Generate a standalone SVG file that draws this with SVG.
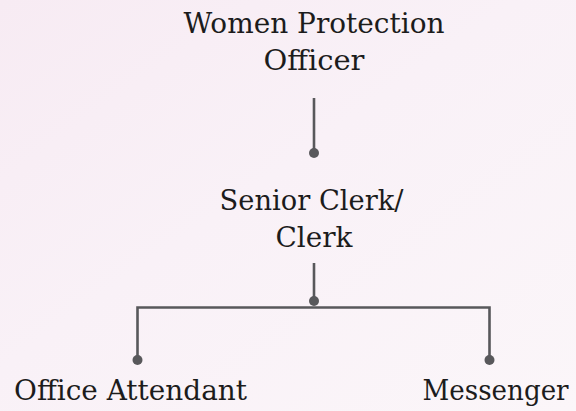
<svg xmlns="http://www.w3.org/2000/svg" width="576" height="411" viewBox="0 0 576 411">
  <defs>
    <linearGradient id="bg" x1="0" y1="0" x2="1" y2="1">
      <stop offset="0" stop-color="#f7ebf3"/>
      <stop offset="0.45" stop-color="#f9f1f7"/>
      <stop offset="1" stop-color="#fbf6f9"/>
    </linearGradient>
    <style>
      .label { font-family: "DejaVu Serif", "Liberation Serif", serif; font-size: 27.5px; fill: #1c1c1c; text-anchor: middle; }
      .wire { stroke: #58585b; stroke-width: 2.6; fill: none; }
      .dot { fill: #58585b; }
    </style>
  </defs>

  <rect width="576" height="411" fill="url(#bg)"/>

  <g id="connectors">
    <line class="wire" x1="314" y1="98" x2="314" y2="153"/>
    <circle class="dot" cx="314" cy="153" r="5"/>
    <line class="wire" x1="314" y1="263" x2="314" y2="301"/>
    <circle class="dot" cx="314" cy="301" r="5"/>
    <path class="wire" d="M137.5 360 V307.5 H489.5 V360"/>
    <circle class="dot" cx="137.5" cy="360" r="5"/>
    <circle class="dot" cx="489.5" cy="360" r="5"/>
  </g>

  <g id="node-wpo">
    <text class="label" x="314" y="33" textLength="261" lengthAdjust="spacingAndGlyphs">Women Protection</text>
    <text class="label" x="314" y="70" textLength="101" lengthAdjust="spacingAndGlyphs">Officer</text>
  </g>

  <g id="node-clerk">
    <text class="label" x="311.5" y="210" textLength="184" lengthAdjust="spacingAndGlyphs">Senior Clerk/</text>
    <text class="label" x="314" y="247" textLength="77" lengthAdjust="spacingAndGlyphs">Clerk</text>
  </g>

  <g id="node-attendant">
    <text class="label" x="130.5" y="400" textLength="233" lengthAdjust="spacingAndGlyphs">Office Attendant</text>
  </g>

  <g id="node-messenger">
    <text class="label" x="495.6" y="400" textLength="146" lengthAdjust="spacingAndGlyphs">Messenger</text>
  </g>
</svg>
